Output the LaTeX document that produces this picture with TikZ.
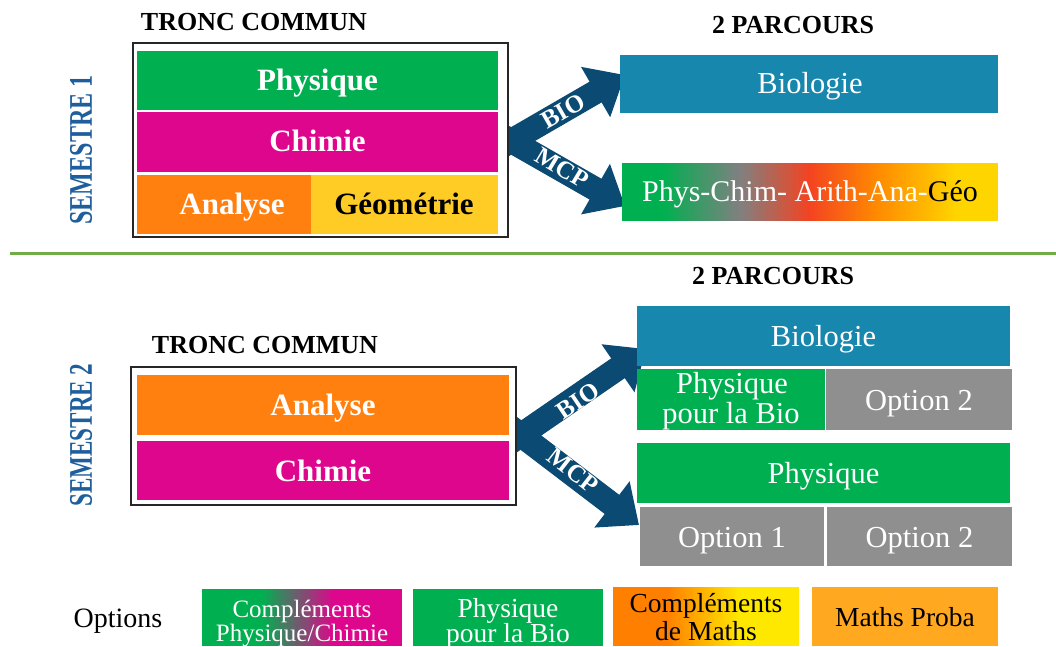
\documentclass[tikz,border=0pt]{standalone}
\usepackage{graphicx}
\usepackage{fontspec}
\setmainfont{Liberation Serif}
\usetikzlibrary{arrows.meta}
\definecolor{cgreen}{HTML}{00B050}
\definecolor{cmag}{HTML}{DE068C}
\definecolor{corange}{HTML}{FF7F0F}
\definecolor{cyellow}{HTML}{FFCC26}
\definecolor{cteal}{HTML}{1887AD}
\definecolor{cgray}{HTML}{8F8F8F}
\definecolor{carrow}{HTML}{0B4A72}
\definecolor{csem}{HTML}{1F5E9C}
\definecolor{cline}{HTML}{70AD47}
\definecolor{cproba}{HTML}{FFA820}
\definecolor{gmid}{HTML}{808080}
\definecolor{gred}{HTML}{F44321}
\definecolor{gora}{HTML}{FF8A00}
\definecolor{gyel}{HTML}{FFD500}
\definecolor{lora}{HTML}{FF7F00}
\definecolor{lyel}{HTML}{FFE800}
\newcommand\myfs[2]{\fontsize{#1}{#2}\selectfont}
% horizontal gradient made of thin strips: x1,y1,x2,y2,colour left,colour right
\newcommand\hgradfill[6]{%
  \pgfmathsetmacro\hgW{(#3-#1)/40}%
  \foreach \hgI in {0,...,39}{%
    \pgfmathsetmacro\hgP{2.5*\hgI+1.25}%
    \fill[#6!\hgP!#5] ({#1+\hgI*\hgW},#2) rectangle ({#1+(\hgI+1)*\hgW+0.5},#4);
  }%
}
\tikzset{
  blk/.style={inner sep=0pt, outer sep=0pt},
  txt/.style={inner sep=0pt, outer sep=0pt, anchor=base, text=white},
  bigb/.style={font=\bfseries\myfs{31}{31}},
  reg/.style={font=\myfs{30.5}{30.5}},
  legs/.style={font=\myfs{25}{25}},
  legb/.style={font=\myfs{27.5}{27.5}},
  frame/.style={draw=black!85, line width=1.2pt, inner sep=0pt, outer sep=0pt},
  head/.style={font=\bfseries\myfs{26}{26}, inner sep=0pt},
  sem/.style={text=csem, rotate=90, font=\bfseries\myfs{33}{33}, inner sep=0pt},
  bigarrow/.style={draw=carrow, line width=24pt, -{Triangle[length=34pt,width=56pt]}},
  alab/.style={text=white, font=\bfseries\myfs{25}{25}, inner sep=0pt}
}
\begin{document}
\begin{tikzpicture}[x=1pt,y=-1pt]
\useasboundingbox (0,0) rectangle (1056,646);

% ---------- headings ----------
\node[head] (tc1) at (254,22) {TRONC COMMUN};
\node[head] (pc1) at (793,25) {2 PARCOURS};
\node[head] (pc2) at (773,276) {2 PARCOURS};
\node[head] (tc2) at (265,345) {TRONC COMMUN};
\node[sem] (sem1) at (81,150) {\scalebox{0.73}[1]{SEMESTRE 1}};
\node[sem] (sem2) at (81,435) {\scalebox{0.70}[1]{SEMESTRE 2}};

% ---------- separator ----------
\coordinate (sepL) at (10,253);
\coordinate (sepR) at (1056,253);
\draw[cline, line width=3pt] (sepL) -- (sepR);

% ---------- arrows semester 1 ----------
\coordinate (s1bioS) at (495,150.3);
\coordinate (s1mcpS) at (495,131.7);
\coordinate (s1bioT) at (625,75);
\coordinate (s1mcpT) at (625,206);
\begin{scope}
\clip (508,0) rectangle (1056,646);
\draw[bigarrow] (s1bioS) -- (s1bioT);
\draw[bigarrow] (s1mcpS) -- (s1mcpT);
\end{scope}
\node[alab, rotate=30] (lbio1) at (563,111) {BIO};
\node[alab, rotate=-31] (lmcp1) at (562,168) {MCP};

% ---------- arrows semester 2 ----------
\coordinate (s2bioS) at (504.5,446.3);
\coordinate (s2mcpS) at (505,422.9);
\coordinate (s2bioT) at (646,349);
\coordinate (s2mcpT) at (639,525);
\begin{scope}
\clip (515,0) rectangle (1056,646);
\draw[bigarrow] (s2bioS) -- (s2bioT);
\draw[bigarrow] (s2mcpS) -- (s2mcpT);
\end{scope}
\node[alab, rotate=34] (lbio2) at (578,401) {BIO};
\node[alab, rotate=-38] (lmcp2) at (573,471) {MCP};

% ---------- semester 1 tronc commun ----------
\node[frame, minimum width=375pt, minimum height=194pt] (frame1) at (320.5,140) {};
\node[blk, fill=cgreen, minimum width=361pt, minimum height=59pt] (phys1) at (317.5,80.5) {};
\node[blk, fill=cmag, minimum width=361pt, minimum height=60pt] (chim1) at (317.5,142) {};
\node[blk, fill=corange, minimum width=174pt, minimum height=59pt] (ana1) at (224,204.5) {};
\node[blk, fill=cyellow, minimum width=187pt, minimum height=59pt] (geo1) at (404.5,204.5) {};
\node[txt, bigb] (tphys1) at (317.5,90) {Physique};
\node[txt, bigb] (tchim1) at (317.5,151) {Chimie};
\node[txt, bigb] (tana1) at (232,214) {Analyse};
\node[txt, bigb, text=black] (tgeo1) at (404,214) {Géométrie};

% ---------- semester 1 parcours ----------
\node[blk, fill=cteal, minimum width=378pt, minimum height=58pt] (bio1) at (809,84) {};
\node[txt, reg] (tbio1) at (810,93) {Biologie};
\fill[cgreen] (622,163) rectangle (664,221);
\hgradfill{663}{163}{740}{221}{cgreen}{gmid}
\hgradfill{740}{163}{810}{221}{gmid}{gred}
\hgradfill{810}{163}{877}{221}{gred}{gora}
\hgradfill{877}{163}{957}{221}{gora}{gyel}
\fill[gyel] (957,163) rectangle (998,221);
\node[blk, minimum width=376pt, minimum height=58pt] (mcp1) at (810,192) {};
\node[txt, font=\myfs{30}{30}] (tmcp1) at (810,201)
  {{\color{white}Phys-Chim- Arith-Ana-}{\color{black}Géo}};

% ---------- semester 2 tronc commun ----------
\node[frame, minimum width=385pt, minimum height=138pt] (frame2) at (323.5,436) {};
\node[blk, fill=corange, minimum width=372pt, minimum height=60pt] (ana2) at (323,405) {};
\node[blk, fill=cmag, minimum width=372pt, minimum height=59pt] (chim2) at (323,470.5) {};
\node[txt, bigb] (tana2) at (323,415) {Analyse};
\node[txt, bigb] (tchim2) at (323,481) {Chimie};

% ---------- semester 2 parcours ----------
\node[blk, fill=cteal, minimum width=373pt, minimum height=60pt] (bio2) at (823.5,336) {};
\node[blk, fill=cgreen, minimum width=188pt, minimum height=61pt] (ppb2) at (731,399.5) {};
\node[blk, fill=cgray, minimum width=186pt, minimum height=61pt] (opt2a) at (919,399.5) {};
\node[blk, fill=cgreen, minimum width=373pt, minimum height=60pt] (phy2) at (823.5,473) {};
\node[blk, fill=cgray, minimum width=184pt, minimum height=59pt] (opt1) at (732,536.5) {};
\node[blk, fill=cgray, minimum width=185pt, minimum height=59pt] (opt2b) at (919.5,536.5) {};
\node[txt, reg] (tbio2) at (823.5,346) {Biologie};
\node[txt, reg] (tppb2a) at (732,393) {Physique};
\node[txt, reg] (tppb2b) at (731,423) {pour la Bio};
\node[txt, reg] (topt2a) at (919,410) {Option 2};
\node[txt, reg] (tphy2) at (823.5,483) {Physique};
\node[txt, reg] (topt1) at (732,547) {Option 1};
\node[txt, reg] (topt2b) at (919.5,547) {Option 2};

% ---------- legend ----------
\node[inner sep=0pt, anchor=base, font=\myfs{28}{28}] (optl) at (118,627) {Options};
\fill[cgreen] (202,589) rectangle (263,646);
\hgradfill{262}{589}{334}{646}{cgreen}{cmag}
\fill[cmag] (334,589) rectangle (402,646);
\node[blk, minimum width=200pt, minimum height=57pt] (leg1) at (302,617.5) {};
\node[txt, legs] (tleg1a) at (302,617) {Compléments};
\node[txt, legs] (tleg1b) at (302,641) {Physique/Chimie};
\node[blk, fill=cgreen, minimum width=190pt, minimum height=57pt] (leg2) at (508,617.5) {};
\node[txt, legb] (tleg2a) at (508,617) {Physique};
\node[txt, legb] (tleg2b) at (508,642) {pour la Bio};
\fill[lora] (613,587) rectangle (668,646);
\hgradfill{667}{587}{740}{646}{lora}{lyel}
\fill[lyel] (740,587) rectangle (799,646);
\node[blk, minimum width=186pt, minimum height=59pt] (leg3) at (706,616.5) {};
\node[txt, legb, text=black] (tleg3a) at (706,612) {Compléments};
\node[txt, legb, text=black] (tleg3b) at (706,640) {de Maths};
\node[blk, fill=cproba, minimum width=186pt, minimum height=59pt] (leg4) at (905,616.5) {};
\node[txt, legb, text=black] (tleg4) at (905,626) {Maths Proba};
\end{tikzpicture}
\end{document}
